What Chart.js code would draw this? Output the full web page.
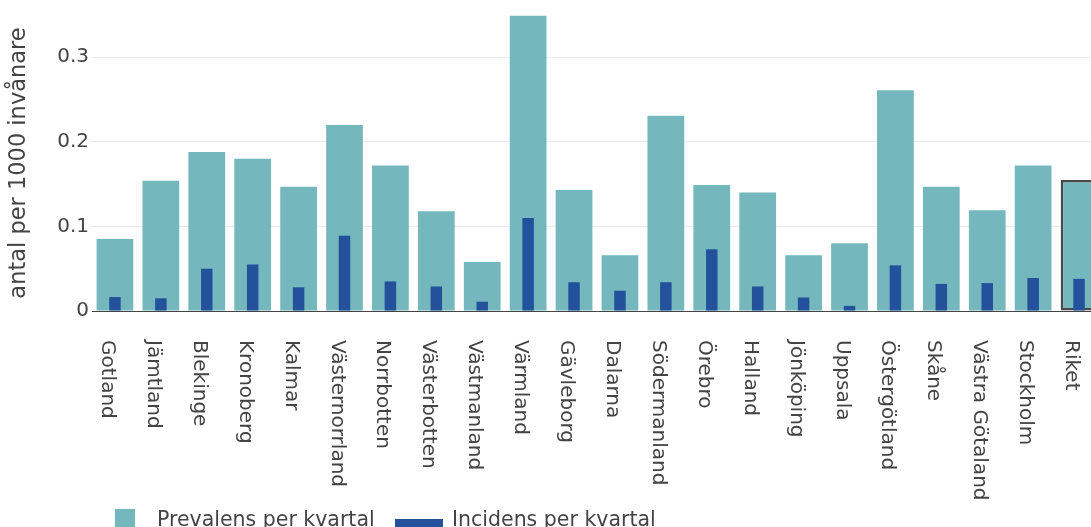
<!DOCTYPE html>
<html lang="sv">
<head>
    <meta charset="UTF-8">
    <title>Prevalens och incidens per län</title>
    <script src="https://cdn.jsdelivr.net/npm/chart.js"></script>
    <style>
        html, body {
            margin: 0;
            padding: 0;
            background: #fff;
            overflow: hidden;
        }
        #wrap {
            width: 1102px;
            height: 527px;
        }
    </style>
</head>
<body>
<div id="wrap">
    <canvas id="lanChart" width="1102" height="527"></canvas>
</div>
<script>
    // län + riket, i samma ordning som i bilden
    const lan = ["Gotland", "Jämtland", "Blekinge", "Kronoberg", "Kalmar", "Västernorrland",
        "Norrbotten", "Västerbotten", "Västmanland", "Värmland", "Gävleborg", "Dalarna",
        "Södermanland", "Örebro", "Halland", "Jönköping", "Uppsala", "Östergötland",
        "Skåne", "Västra Götaland", "Stockholm", "Riket"];

    const prevalens = [0.085, 0.154, 0.188, 0.180, 0.147, 0.220, 0.172, 0.118, 0.058, 0.349, 0.143,
        0.066, 0.231, 0.149, 0.140, 0.066, 0.080, 0.261, 0.147, 0.119, 0.172, 0.155];

    const incidens = [0.0165, 0.015, 0.050, 0.055, 0.028, 0.089, 0.035, 0.029, 0.011, 0.110, 0.034,
        0.024, 0.034, 0.073, 0.029, 0.016, 0.006, 0.054, 0.032, 0.033, 0.039, 0.038];

    const yTicks = [0, 0.1, 0.2, 0.3];

    const teal = '#74b7bc';
    const bla = '#23519c';
    const textFarg = '#444';
    const font = "'DejaVu Sans', Verdana, sans-serif";

    // x-etiketter (läses uppifrån och ned) + legend längst ned
    const extraText = {
        id: 'extraText',
        afterDraw(chart) {
            const ctx = chart.ctx;
            const xs = chart.scales.x;
            ctx.save();
            ctx.fillStyle = textFarg;
            ctx.font = "20px " + font;
            ctx.textAlign = 'left';
            ctx.textBaseline = 'alphabetic';
            lan.forEach((namn, i) => {
                const cx = xs.getPixelForValue(i);
                ctx.save();
                ctx.translate(cx - 13, chart.chartArea.bottom + 29);
                ctx.rotate(Math.PI / 2);
                ctx.fillText(namn, 0, 0);
                ctx.restore();
            });

            // legend
            const ds = chart.data.datasets;
            ctx.font = "20.5px " + font;
            ctx.fillStyle = ds[1].backgroundColor;
            ctx.fillRect(115, 509, 20, 20);
            ctx.fillStyle = textFarg;
            ctx.fillText(ds[1].label, 157, 526);
            ctx.fillStyle = ds[0].backgroundColor;
            ctx.fillRect(395, 519, 48, 10);
            ctx.fillStyle = textFarg;
            ctx.fillText(ds[0].label, 452, 526);
            ctx.restore();
        }
    };

    const ctx = document.getElementById('lanChart').getContext('2d');
    new Chart(ctx, {
        type: 'bar',
        data: {
            labels: lan,
            datasets: [{
                label: 'Incidens per kvartal',
                data: incidens,
                backgroundColor: bla,
                grouped: false,
                order: 0,
                barPercentage: 0.25,
                categoryPercentage: 1.0
            }, {
                label: 'Prevalens per kvartal',
                data: prevalens,
                backgroundColor: teal,
                borderColor: '#4a4a4a',
                borderWidth: lan.map(n => n === 'Riket' ? 2.5 : 0),
                borderSkipped: false,
                grouped: false,
                order: 1,
                barPercentage: 0.8,
                categoryPercentage: 1.0
            }]
        },
        options: {
            responsive: false,
            animation: false,
            layout: { padding: { top: 13.5, left: 0, right: 0, bottom: 0 } },
            plugins: {
                legend: { display: false },
                tooltip: { enabled: false }
            },
            scales: {
                x: {
                    ticks: { display: false },
                    grid: { display: false },
                    border: { display: true, color: '#444', width: 1 },
                    afterFit(scale) { scale.height = 216; }
                },
                y: {
                    min: 0,
                    max: 0.35,
                    afterBuildTicks(scale) {
                        scale.ticks = yTicks.map(v => ({ value: v }));
                    },
                    afterFit(scale) { scale.width = 92; },
                    ticks: {
                        padding: 3,
                        color: textFarg,
                        font: { family: font, size: 20 },
                        callback: v => v === 0 ? '0' : v.toFixed(1)
                    },
                    grid: {
                        drawTicks: false,
                        color: c => c.tick && c.tick.value === 0 ? 'rgba(0,0,0,0)' : '#ebebeb'
                    },
                    border: { display: false },
                    title: {
                        display: true,
                        text: 'antal per 1000 invånare',
                        color: textFarg,
                        font: { family: font, size: 22.5 },
                        padding: { top: 6, bottom: 0 }
                    }
                }
            }
        },
        plugins: [extraText]
    });
</script>
</body>
</html>
